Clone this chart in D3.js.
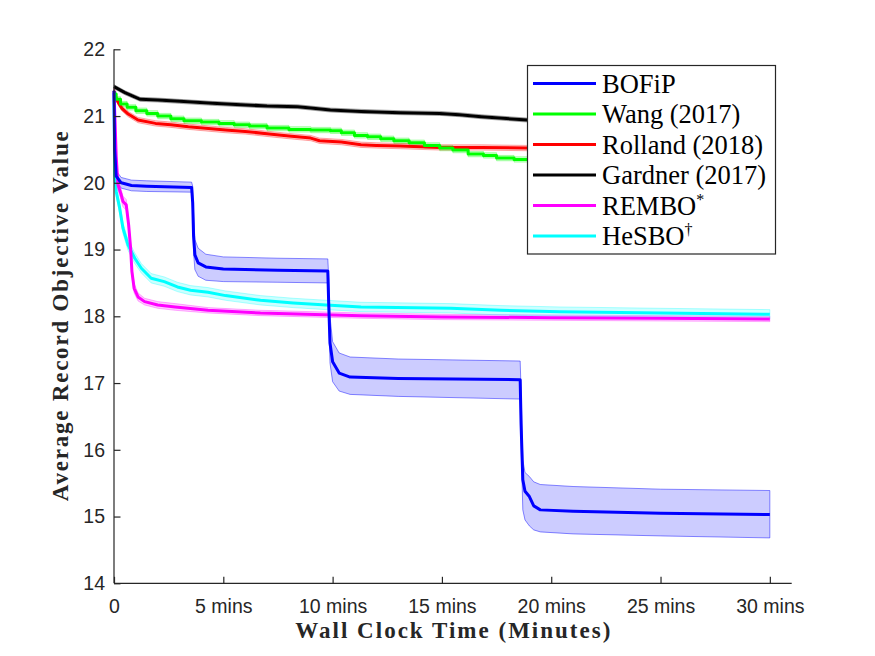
<!DOCTYPE html>
<head>
<meta charset="utf-8">
<style>
	body{
		margin: 0;
		background: white;
	}
	svg{
		display: block;
	}
</style>
</head>
<body>
<script src="https://cdn.jsdelivr.net/npm/d3@7/dist/d3.min.js" charset="utf-8"></script>
<svg width="875" height="656"></svg>
<script>
	// values (time in minutes)
	var methodNames = ["BOFiP","Wang (2017)","Rolland (2018)","Gardner (2017)","REMBO","HeSBO"];
	var xTicks = [0,5,10,15,20,25,30];
	var xTickLabels = ["0","5 mins","10 mins","15 mins","20 mins","25 mins","30 mins"];
	var yTicks = [14,15,16,17,18,19,20,21,22];

	var timeBOFiP = [0,0.03,0.1,0.33,0.8,1.5,3.55,3.6,3.64,3.7,3.85,4.2,5,7.5,9.78,9.82,9.88,10,10.3,10.8,13,18.58,18.62,18.7,18.8,19,19.2,19.5,21,25,30];
	var meanBOFiP = [21.38,20.5,20.1,20.0,19.96,19.95,19.93,19.7,19.2,18.92,18.8,18.74,18.71,18.69,18.68,18.2,17.6,17.32,17.15,17.09,17.07,17.05,16.4,15.55,15.38,15.3,15.16,15.1,15.08,15.05,15.03];
	var lowBOFiP = [21.36,20.42,20.02,19.92,19.88,19.87,19.86,19.55,18.95,18.7,18.6,18.54,18.52,18.51,18.5,17.95,17.3,17.02,16.88,16.83,16.8,16.76,16.1,15.1,14.95,14.86,14.8,14.77,14.74,14.71,14.68];
	var highBOFiP = [21.4,20.58,20.18,20.08,20.04,20.03,20.01,19.95,19.55,19.15,19.02,18.93,18.89,18.87,18.86,18.6,18,17.62,17.45,17.39,17.36,17.33,16.9,15.85,15.66,15.6,15.52,15.48,15.45,15.41,15.39];

	var timeWang = [0,0.1,0.3,0.6,1,1.5,2,2.6,3.2,4,4.8,5.5,6.2,7,8,9,9.9,10.4,11,11.6,12.2,12.8,13.5,14.2,14.9,15.5,16.2,16.9,17.5,18.3,19,20,22,25,28,30];
	var meanWang = [21.33,21.25,21.18,21.13,21.08,21.04,21,20.96,20.93,20.91,20.89,20.87,20.85,20.82,20.8,20.79,20.78,20.75,20.71,20.69,20.66,20.63,20.6,20.56,20.52,20.49,20.43,20.41,20.37,20.35,20.33,20.3,20.25,20.2,20.15,20.12];
	var spreadWang = 0.04;

	var timeRolland = [0,0.05,0.2,0.35,0.65,1.1,1.9,2.6,3.4,5.1,6,7.1,8,9,9.4,10.4,11.3,12,13.1,14.9,16.8,18.9,22,26,30];
	var meanRolland = [21.38,21.3,21.2,21.12,21.03,20.94,20.89,20.87,20.84,20.79,20.77,20.73,20.7,20.67,20.63,20.61,20.57,20.56,20.55,20.53,20.53,20.52,20.5,20.48,20.47];
	var spreadRolland = 0.04;

	var timeGardner = [0,0.5,1.2,2,3,4.5,5.8,7,8.4,9,9.9,11.3,13.1,14.9,15.8,16.8,18.9,22,26,30];
	var meanGardner = [21.44,21.35,21.25,21.24,21.22,21.19,21.17,21.15,21.14,21.12,21.09,21.07,21.05,21.04,21.02,20.99,20.94,20.9,20.87,20.85];
	var spreadGardner = 0.03;

	var timeREMBO = [0,0.05,0.1,0.18,0.33,0.41,0.56,0.67,0.76,0.82,0.92,1.1,1.4,2,2.8,4.3,6.7,11.3,15,20,25,30];
	var meanREMBO = [21.35,20.9,20.4,19.97,19.82,19.72,19.67,19.37,19.02,18.67,18.42,18.29,18.22,18.17,18.14,18.09,18.05,18.01,17.99,17.98,17.97,17.96];
	var spreadREMBO = [0.02,0.05,0.07,0.08,0.08,0.08,0.08,0.08,0.08,0.08,0.07,0.06,0.05,0.05,0.05,0.04,0.04,0.04,0.04,0.04,0.04,0.04];

	var timeHeSBO = [0,0.03,0.1,0.26,0.41,0.64,0.95,1.25,1.7,2.3,2.9,3.5,4.3,5.1,6.7,8.2,9.7,11.3,15.4,17.7,20.4,25,30];
	var meanHeSBO = [21.35,20.12,19.87,19.62,19.32,19.07,18.87,18.72,18.57,18.52,18.44,18.39,18.36,18.31,18.24,18.2,18.17,18.14,18.12,18.09,18.07,18.05,18.03];
	var spreadHeSBO = [0.02,0.05,0.07,0.08,0.08,0.08,0.08,0.07,0.07,0.07,0.07,0.07,0.07,0.07,0.07,0.07,0.07,0.07,0.07,0.07,0.07,0.07,0.07];

	var colors = ["#0000ff","#00ff00","#ff0000","#000000","#ff00ff","#00ffff"];
	var axisColor = "#262626";

	function bandRows(t, m, lo, hi){
		return t.map(function(d,i){ return {t:d, m:m[i], lo:lo[i], hi:hi[i]}; });
	}
	function spreadRows(t, m, s){
		return t.map(function(d,i){
			var w = Array.isArray(s) ? s[i] : s;
			return {t:d, m:m[i], lo:m[i]-w, hi:m[i]+w};
		});
	}

	var series = [
		{name:methodNames[0], color:colors[0], step:false, edge:0.45, rows:bandRows(timeBOFiP,meanBOFiP,lowBOFiP,highBOFiP)},
		{name:methodNames[1], color:colors[1], step:true, edge:0.3, rows:spreadRows(timeWang,meanWang,spreadWang)},
		{name:methodNames[2], color:colors[2], step:false, edge:0.3, rows:spreadRows(timeRolland,meanRolland,spreadRolland)},
		{name:methodNames[3], color:colors[3], step:false, edge:0.3, rows:spreadRows(timeGardner,meanGardner,spreadGardner)},
		{name:methodNames[4], color:colors[4], step:false, edge:0.3, rows:spreadRows(timeREMBO,meanREMBO,spreadREMBO)},
		{name:methodNames[5], color:colors[5], step:false, edge:0.3, rows:spreadRows(timeHeSBO,meanHeSBO,spreadHeSBO)}
	];

	var pLeft = 114, pRight = 791.7, pTop = 49.3, pBottom = 583.3;

	var svg = d3.select("svg");

	var x = d3.scaleLinear().domain([0,31]).range([pLeft,pRight]);
	var y = d3.scaleLinear().domain([14,22]).range([pBottom,pTop]);

	// bands first
	series.forEach(function(s){
		var area = d3.area()
			.x(function(d){ return x(d.t); })
			.y0(function(d){ return y(d.lo); })
			.y1(function(d){ return y(d.hi); })
			.curve(s.step ? d3.curveStepAfter : d3.curveLinear);
		svg.append("path")
			.datum(s.rows)
			.attr("d", area)
			.attr("fill", s.color)
			.attr("fill-opacity", s.color === "#000000" ? 0.25 : 0.2)
			.attr("stroke", s.color)
			.attr("stroke-opacity", s.edge)
			.attr("stroke-width", 1);
	});

	// mean lines, BOFiP on top
	series.slice().reverse().forEach(function(s){
		var line = d3.line()
			.x(function(d){ return x(d.t); })
			.y(function(d){ return y(d.m); })
			.curve(s.step ? d3.curveStepAfter : d3.curveLinear);
		svg.append("path")
			.datum(s.rows)
			.attr("d", line)
			.attr("fill", "none")
			.attr("stroke", s.color)
			.attr("stroke-width", 3)
			.attr("stroke-linejoin", "round");
	});

	// axes (MATLAB style: ticks point inward, no box)
	var xAxis = svg.append("g")
		.attr("transform", "translate(0," + pBottom + ")")
		.call(d3.axisBottom(x).tickValues(xTicks).tickSize(-6.5).tickPadding(12)
			.tickFormat(function(d,i){ return xTickLabels[i]; }));
	xAxis.select(".domain").attr("d", "M" + pLeft + ",0H" + pRight);

	var yAxis = svg.append("g")
		.attr("transform", "translate(" + pLeft + ",0)")
		.call(d3.axisLeft(y).tickValues(yTicks).tickSize(-6.5).tickPadding(9).tickFormat(d3.format("d")));
	yAxis.select(".domain").attr("d", "M0," + pTop + "V" + pBottom);

	svg.selectAll(".domain").attr("stroke", axisColor).attr("stroke-width", 1.2);
	svg.selectAll(".tick line").attr("stroke", axisColor).attr("stroke-width", 1.2);
	svg.selectAll(".tick text")
		.attr("fill", axisColor)
		.style("font-family", "'Liberation Sans', Arial, sans-serif")
		.style("font-size", "19.5px");
	xAxis.selectAll(".tick text").attr("dy", "0.71em").attr("y", 16);
	yAxis.selectAll(".tick text").attr("x", -9);

	// axis titles
	svg.append("text")
		.attr("x", (pLeft + pRight)/2)
		.attr("y", 638)
		.attr("text-anchor", "middle")
		.attr("textLength", 315)
		.attr("lengthAdjust", "spacing")
		.style("font-family", "'Liberation Serif', 'Times New Roman', serif")
		.style("font-weight", "bold")
		.style("font-size", "23px")
		.attr("fill", axisColor)
		.text("Wall Clock Time (Minutes)");

	svg.append("text")
		.attr("transform", "translate(68," + ((pTop + pBottom)/2) + ") rotate(-90)")
		.attr("text-anchor", "middle")
		.attr("textLength", 370)
		.attr("lengthAdjust", "spacing")
		.style("font-family", "'Liberation Serif', 'Times New Roman', serif")
		.style("font-weight", "bold")
		.style("font-size", "23px")
		.attr("fill", axisColor)
		.text("Average Record Objective Value");

	// legend
	var legend = svg.append("g").attr("id", "legend");
	legend.append("rect")
		.attr("x", 527.5)
		.attr("y", 65.5)
		.attr("width", 248)
		.attr("height", 188.5)
		.attr("fill", "white")
		.attr("stroke", axisColor)
		.attr("stroke-width", 1.2);

	var marks = ["", "", "", "", "*", "\u2020"];
	var rowY = d3.scaleLinear().domain([0,5]).range([83.5,236]);
	series.forEach(function(s,i){
		legend.append("line")
			.attr("x1", 533).attr("x2", 596)
			.attr("y1", rowY(i)).attr("y2", rowY(i))
			.attr("stroke", s.color)
			.attr("stroke-width", 3);
		var t = legend.append("text")
			.attr("x", 602)
			.attr("y", rowY(i) + 9)
			.style("font-family", "'Liberation Serif', 'Times New Roman', serif")
			.style("font-size", "26.5px")
			.attr("fill", "#000")
			.text(s.name);
		if(marks[i])
			t.append("tspan")
				.attr("dy", -10)
				.style("font-size", "16px")
				.text(marks[i]);
	});
</script>
</body>
</html>
